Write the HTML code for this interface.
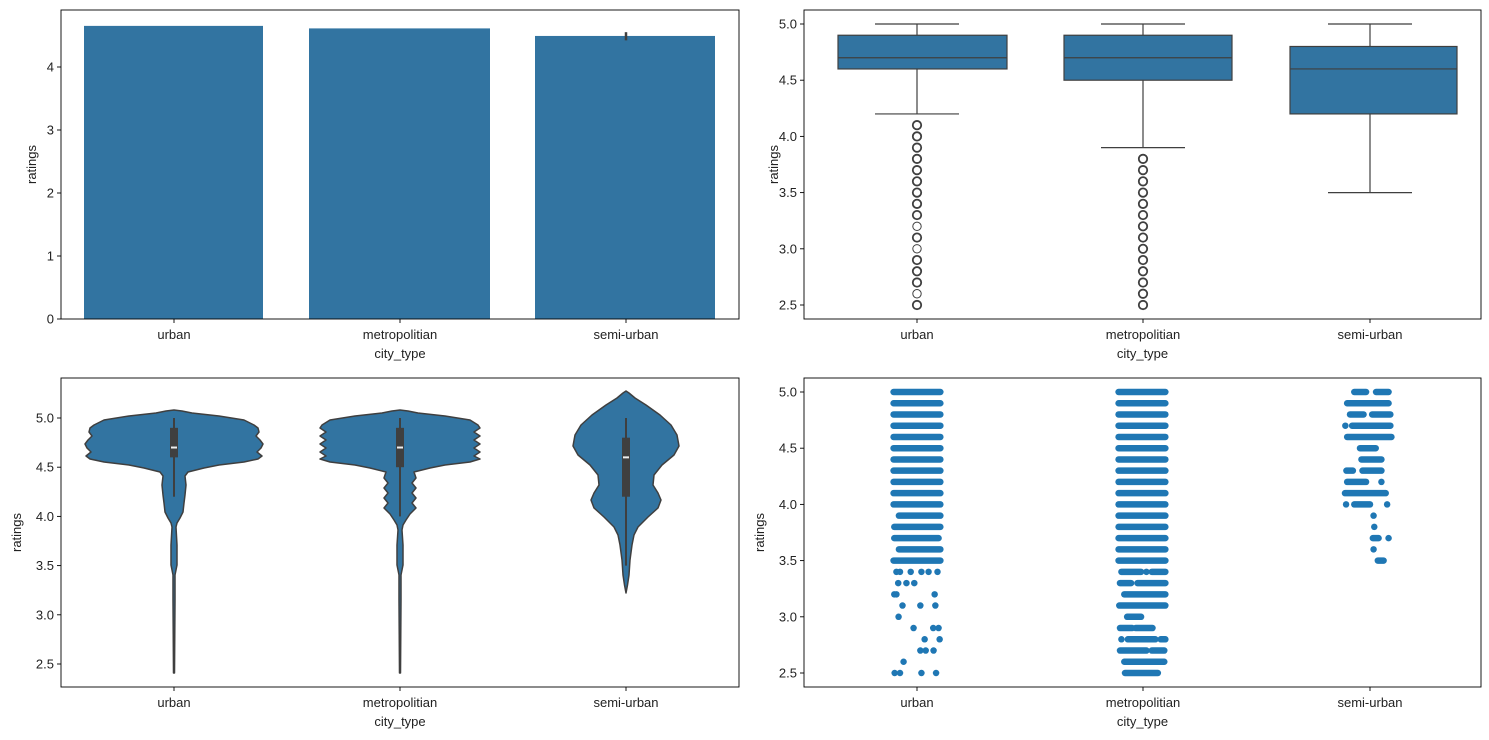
<!DOCTYPE html><html><head><meta charset="utf-8"><style>
html,body{margin:0;padding:0;background:#fff;width:1489px;height:740px;overflow:hidden}
svg{display:block;font-family:"Liberation Sans","DejaVu Sans",sans-serif}
text{fill:#222;font-size:13px}
</style></head><body>
<div id="wrap"></div>
<script>
var o='';const C='#3274a1',L='#3f3f3f';
function ax(x0,y0,x1,y1,yt,cx,xl){
  yt.forEach(function(t){o+='<line x1="'+(x0-4)+'" x2="'+x0+'" y1="'+t[0]+'" y2="'+t[0]+'" stroke="#000" stroke-width="0.9"/><text x="'+(x0-7)+'" y="'+(t[0]+4.5)+'" text-anchor="end">'+t[1]+'</text>'});
  ['urban','metropolitian','semi-urban'].forEach(function(n,i){o+='<line x1="'+cx[i]+'" x2="'+cx[i]+'" y1="'+y1+'" y2="'+(y1+4)+'" stroke="#000" stroke-width="0.9"/><text x="'+cx[i]+'" y="'+(y1+20)+'" text-anchor="middle">'+n+'</text>'});
  o+='<text x="'+((x0+x1)/2)+'" y="'+(y1+39)+'" text-anchor="middle">city_type</text>';
  o+='<text x="0" y="0" transform="translate('+xl+','+((y0+y1)/2)+') rotate(-90)" text-anchor="middle">ratings</text>';
}
function frame(x0,y0,x1,y1){o+='<rect x="'+x0+'" y="'+y0+'" width="'+(x1-x0)+'" height="'+(y1-y0)+'" fill="none" stroke="#000" stroke-width="0.9"/>'}
var cxL=[174,400,626],cxR=[917,1143,1370];
function yb(v){return 319-62.9*v}
[[84,263,4.66],[309,490,4.62],[535,715,4.50]].forEach(function(b){o+='<rect x="'+b[0]+'" y="'+yb(b[2])+'" width="'+(b[1]-b[0])+'" height="'+(319-yb(b[2]))+'" fill="'+C+'"/>'});
o+='<line x1="626" x2="626" y1="'+yb(4.56)+'" y2="'+yb(4.43)+'" stroke="'+L+'" stroke-width="2.5"/>';
ax(61,10,739,319,[[319,0],[256,1],[193,2],[130,3],[67,4]],cxL,36);
frame(61,10,739,319);
function yr(v){return 24+(5-v)*112.4}
var bx=[[838,1007,4.2,4.6,4.7,4.9,5.0,4.1],[1064,1232,3.9,4.5,4.7,4.9,5.0,3.8],[1290,1457,3.5,4.2,4.6,4.8,5.0,null]];
bx.forEach(function(b,i){var c=cxR[i],hw=42;
 o+='<line x1="'+c+'" x2="'+c+'" y1="'+yr(b[6])+'" y2="'+yr(b[5])+'" stroke="'+L+'" stroke-width="1.2"/><line x1="'+c+'" x2="'+c+'" y1="'+yr(b[3])+'" y2="'+yr(b[2])+'" stroke="'+L+'" stroke-width="1.2"/>';
 o+='<line x1="'+(c-hw)+'" x2="'+(c+hw)+'" y1="'+yr(b[6])+'" y2="'+yr(b[6])+'" stroke="'+L+'" stroke-width="1.2"/><line x1="'+(c-hw)+'" x2="'+(c+hw)+'" y1="'+yr(b[2])+'" y2="'+yr(b[2])+'" stroke="'+L+'" stroke-width="1.2"/>';
 o+='<rect x="'+b[0]+'" y="'+yr(b[5])+'" width="'+(b[1]-b[0])+'" height="'+(yr(b[3])-yr(b[5]))+'" fill="'+C+'" stroke="'+L+'" stroke-width="1.2"/><line x1="'+b[0]+'" x2="'+b[1]+'" y1="'+yr(b[4])+'" y2="'+yr(b[4])+'" stroke="'+L+'" stroke-width="1.2"/>';
 if(b[7]){for(var v=b[7];v>2.45;v-=0.1){var thin=(i==0&&[2.6,3.0,3.2].some(function(q){return Math.abs(q-v)<0.01}));o+='<circle cx="'+c+'" cy="'+yr(v)+'" r="4.2" fill="none" stroke="'+L+'" stroke-width="'+(thin?1:1.8)+'"/>'}}
});
ax(804,10,1481,319,[[yr(2.5),'2.5'],[yr(3),'3.0'],[yr(3.5),'3.5'],[yr(4),'4.0'],[yr(4.5),'4.5'],[yr(5),'5.0']],cxR,778);
frame(804,10,1481,319);
function yv(v){return 418+(5-v)*98.4}
function vio(c,pts){var r='',l='';pts.forEach(function(p){r+=(c+p[1])+','+p[0]+' '});for(var k=pts.length-1;k>=0;k--)l+=(c-pts[k][1])+','+pts[k][0]+' ';o+='<polygon points="'+r+l+'" fill="'+C+'" stroke="'+L+'" stroke-width="1.5" stroke-linejoin="round"/>'}
var U=[[410,0],[411,8],[413,18],[416,45],[420,70],[425,80],[428,84],[432,85],[436,82],[440,86],[444,89],[448,87],[452,83],[456,88],[459,84],[462,70],[465,45],[468,30],[472,14],[476,11],[485,12],[495,11],[503,10],[512,9],[518,6],[523,3],[527,2],[545,3],[565,3],[575,1],[600,1],[673,0.5]];
vio(174,U);
var M=[[410,0],[411,8],[413,18],[416,45],[420,70],[425,78],[428,80],[432,74],[436,80],[440,74],[444,80],[448,74],[452,80],[456,74],[459,80],[462,70],[465,45],[468,30],[472,14],[478,16],[483,12],[488,16],[493,12],[498,16],[503,12],[508,16],[514,10],[520,6],[525,3],[530,2],[545,3],[565,3],[575,1],[600,1],[673,0.5]];
vio(400,M);
var S=[[391,0],[393,3],[398,9],[405,20],[415,34],[425,45],[435,51],[446,53],[455,48],[465,36],[475,28],[485,27],[493,32],[500,35],[508,32],[517,22],[527,12],[535,8],[545,6],[560,4],[575,3],[585,1.5],[593,0]];
vio(626,S);
[[174,4.2,4.6,4.9,5.0,4.7],[400,4.0,4.5,4.9,5.0,4.7],[626,3.5,4.2,4.8,5.0,4.6]].forEach(function(b){
 o+='<line x1="'+b[0]+'" x2="'+b[0]+'" y1="'+yv(b[4])+'" y2="'+yv(b[1])+'" stroke="'+L+'" stroke-width="2"/><rect x="'+(b[0]-4)+'" y="'+yv(b[3])+'" width="8" height="'+(yv(b[2])-yv(b[3]))+'" fill="'+L+'"/><rect x="'+(b[0]-3)+'" y="'+(yv(b[5])-1)+'" width="6" height="2" fill="#eee"/>'});
ax(61,378,739,687,[[yv(2.5),'2.5'],[yv(3),'3.0'],[yv(3.5),'3.5'],[yv(4),'4.0'],[yv(4.5),'4.5'],[yv(5),'5.0']],cxL,21);
frame(61,378,739,687);
function sx(z){return 850+z/2.8}function sr(k){return 392+k*11.24}var SC='#1f77b4';
function seg(a,b,k){o+='<line x1="'+sx(a)+'" x2="'+sx(b)+'" y1="'+sr(k)+'" y2="'+sr(k)+'" stroke="'+SC+'" stroke-width="6.5" stroke-linecap="round"/>'}
function dots(arr,k){arr.forEach(function(z){seg(z,z,k)})}
for(var k=0;k<=10;k++)seg(122,253,k);
seg(137,253,11);seg(124,253,12);seg(124,248,13);seg(137,253,14);seg(122,253,15);
dots([130,140,170,200,220,245],16);dots([135,158,180],17);dots([124,130,237],18);dots([147,197,239],19);dots([136],20);dots([178,233,248],21);dots([209,251],22);dots([197,212,234],23);dots([150],24);dots([125,140,200,241],25);
for(var k=0;k<=15;k++)seg(752,883,k);
seg(760,815,16);dots([830],16);seg(845,883,16);seg(756,787,17);seg(805,883,17);seg(768,883,18);seg(754,883,19);seg(776,815,20);seg(756,790,21);seg(800,847,21);dots([760],22);seg(778,855,22);seg(870,883,22);seg(756,830,23);seg(845,880,23);seg(768,880,24);seg(770,862,25);
seg(1412,1445,0);seg(1473,1508,0);seg(1392,1508,1);seg(1400,1438,2);seg(1462,1513,2);dots([1387],3);seg(1406,1513,3);seg(1392,1516,4);seg(1428,1472,5);seg(1432,1488,6);seg(1390,1408,7);seg(1435,1488,7);seg(1392,1445,8);dots([1488],8);seg(1386,1500,9);dots([1389],10);seg(1412,1456,10);dots([1504],10);dots([1466],11);dots([1468],12);seg(1464,1480,13);dots([1508],13);dots([1466],14);seg(1478,1494,15);
ax(804,378,1481,687,[[sr(25),'2.5'],[sr(20),'3.0'],[sr(15),'3.5'],[sr(10),'4.0'],[sr(5),'4.5'],[sr(0),'5.0']],cxR,764);
frame(804,378,1481,687);
document.getElementById('wrap').innerHTML='<svg width="1489" height="740" xmlns="http://www.w3.org/2000/svg">'+o+'</svg>';
</script>
</body></html>
